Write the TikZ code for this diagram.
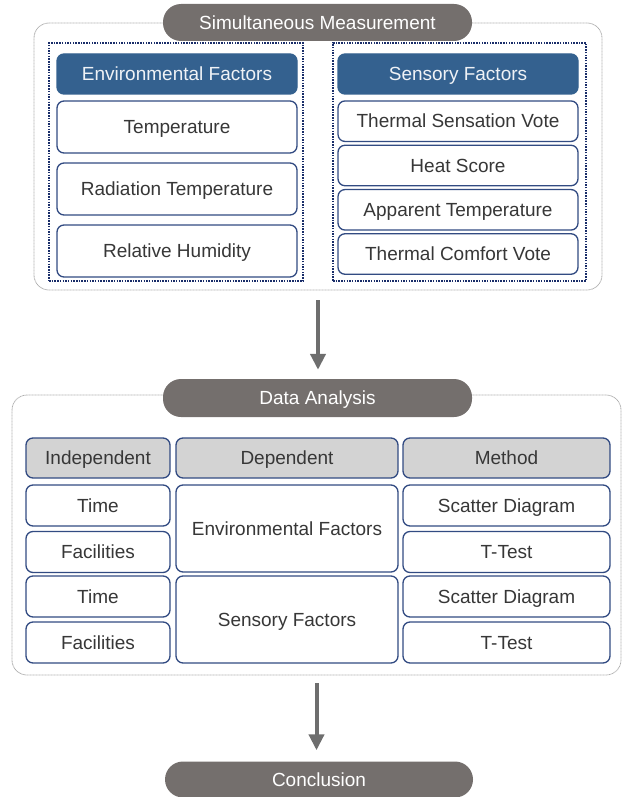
\documentclass[tikz,border=0pt]{standalone}
\usepackage{fontspec}
\setmainfont{Liberation Sans}
\usetikzlibrary{arrows.meta}
\definecolor{pillgray}{RGB}{116,111,109}
\definecolor{hdrblue}{RGB}{52,97,143}
\definecolor{boxblue}{RGB}{50,75,130}
\definecolor{navy}{RGB}{25,45,105}
\definecolor{hdrgray}{RGB}{211,211,211}
\definecolor{textgray}{RGB}{55,55,55}
\definecolor{outergray}{RGB}{175,175,175}
\definecolor{arrgray}{RGB}{110,110,110}
\begin{document}
\begin{tikzpicture}[x=1pt,y=-1pt,
  txt/.style={font=\fontsize{19}{22}\selectfont, text=textgray, inner sep=0pt, text height=13.6pt, text depth=0pt},
  cell/.style={txt, draw=boxblue, line width=1.3pt, rounded corners=7pt, fill=white},
  bluehdr/.style={cell, fill=hdrblue, draw=hdrblue, text=white!92!hdrblue},
  grayhdr/.style={cell, fill=hdrgray},
  pill/.style={txt, fill=pillgray, text=white, rounded corners=18pt, minimum width=309pt, minimum height=37pt},
  outerbox/.style={draw=outergray, line width=0.8pt, dash pattern=on 1pt off 0.5pt, rounded corners=15pt, inner sep=0pt},
  dotbox/.style={draw=navy, line width=2.4pt, dash pattern=on 1.5pt off 1.2pt, inner sep=0pt},
  arr/.style={draw=arrgray, line width=4pt, -{Triangle[length=16pt,width=15pt]}}
]
\useasboundingbox (0,0) rectangle (623,797);
\clip (0,0) rectangle (623,797);

% outer frames
\node[outerbox, minimum width=568pt, minimum height=267pt] (m1) at (318,156.5) {};
\node[outerbox, minimum width=609pt, minimum height=280pt] (m2) at (316.5,535) {};

% pills
\node[pill] (p1) at (317.5,22.5) {Simultaneous Measurement};
\node[pill, minimum height=38pt] (p2) at (317.5,398) {Data Analysis};
\node[pill, minimum width=308pt, minimum height=36pt] (p3) at (319,779.5) {Conclusion};

% dotted groups
\node[dotbox, minimum width=254pt, minimum height=238pt] (gl) at (176,162) {};
\node[dotbox, minimum width=253pt, minimum height=238pt] (gr) at (459.5,162) {};

% left column
\node[bluehdr, minimum width=240pt, minimum height=40pt] (envh) at (177,74) {Environmental Factors};
\node[cell, minimum width=240pt, minimum height=52pt] (e1) at (177,127) {Temperature};
\node[cell, minimum width=240pt, minimum height=52pt] (e2) at (177,189) {Radiation Temperature};
\node[cell, minimum width=240pt, minimum height=52pt] (e3) at (177,251) {Relative Humidity};

% right column
\node[bluehdr, minimum width=240pt, minimum height=40pt] (senh) at (458,74) {Sensory Factors};
\node[cell, minimum width=240pt, minimum height=40.5pt] (s1) at (458,121.2) {Thermal Sensation Vote};
\node[cell, minimum width=240pt, minimum height=40.5pt] (s2) at (458,165.5) {Heat Score};
\node[cell, minimum width=240pt, minimum height=40.5pt] (s3) at (458,209.8) {Apparent Temperature};
\node[cell, minimum width=240pt, minimum height=40.5pt] (s4) at (458,254) {Thermal Comfort Vote};

% table headers
\node[grayhdr, minimum width=144pt, minimum height=40pt] (th1) at (98,458) {Independent};
\node[grayhdr, minimum width=222pt, minimum height=40pt] (th2) at (287,458) {Dependent};
\node[grayhdr, minimum width=207pt, minimum height=40pt] (th3) at (506.5,458) {Method};

% independent
\node[cell, minimum width=144pt, minimum height=41pt] (i1) at (98,505.5) {Time};
\node[cell, minimum width=144pt, minimum height=41pt] (i2) at (98,552) {Facilities};
\node[cell, minimum width=144pt, minimum height=41pt] (i3) at (98,596.5) {Time};
\node[cell, minimum width=144pt, minimum height=41pt] (i4) at (98,642.5) {Facilities};

% dependent
\node[cell, minimum width=222pt, minimum height=87pt] (d1) at (287,528.5) {Environmental Factors};
\node[cell, minimum width=222pt, minimum height=87pt] (d2) at (287,619.5) {Sensory Factors};

% method
\node[cell, minimum width=207pt, minimum height=41pt] (k1) at (506.5,505.5) {Scatter Diagram};
\node[cell, minimum width=207pt, minimum height=41pt] (k2) at (506.5,552) {T-Test};
\node[cell, minimum width=207pt, minimum height=41pt] (k3) at (506.5,596.5) {Scatter Diagram};
\node[cell, minimum width=207pt, minimum height=41pt] (k4) at (506.5,642.5) {T-Test};

% arrows
\draw[arr, shorten <=10pt, shorten >=9pt] (m1.south) -- (m1.south |- p2.north);
\draw[arr, shorten <=8pt, shorten >=11pt] (m2.south) -- (m2.south |- p3.north);
\end{tikzpicture}
\end{document}
